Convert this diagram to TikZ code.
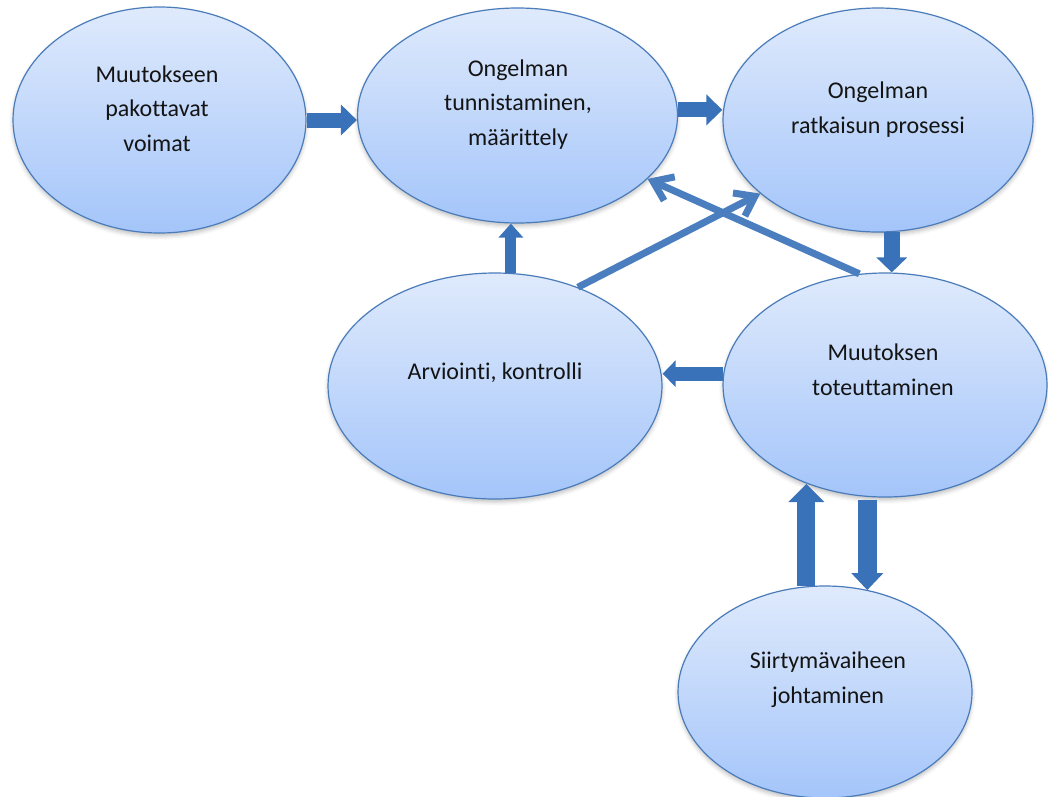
\documentclass[tikz,border=0pt]{standalone}
\usepackage{fontspec}
\setmainfont{Carlito}[Ligatures=NoCommon]
\usetikzlibrary{arrows.meta,shapes.geometric,shadows.blur}
\definecolor{rim}{RGB}{74,124,186}
\definecolor{fillTop}{RGB}{223,234,252}
\definecolor{fillBot}{RGB}{164,197,250}
\definecolor{arrowblue}{RGB}{58,114,186}
\definecolor{lineblue}{RGB}{74,126,190}
\definecolor{ink}{RGB}{20,20,20}
\begin{document}
\begin{tikzpicture}[x=1pt,y=-1pt,
  bubble/.style={ellipse, draw=rim, line width=1.2pt, top color=fillTop,
    bottom color=fillBot, inner sep=0pt,
    blur shadow={shadow xshift=0pt, shadow yshift=-3pt,
      shadow blur radius=4pt, shadow opacity=25}},
  bubbletext/.style={anchor=base, align=center, inner sep=0pt,
    font=\fontsize{24}{34.5}\selectfont, text=ink},
  blockarrow/.style n args={3}{line width=#1pt, arrowblue,
    -{Triangle[length=#3pt,width=#2pt]}},
  thinarrow/.style={line width=7pt, lineblue,
    -{Straight Barb[length=18pt,width=26pt]}}
]
\useasboundingbox (0,0) rectangle (1048,796);

% the six stages
\node[bubble, minimum width=293pt, minimum height=226pt] (e1) at (159.5,120) {};
\node[bubble, minimum width=320pt, minimum height=215pt] (e2) at (517.5,115.5) {};
\node[bubble, minimum width=310pt, minimum height=224pt] (e3) at (878,120) {};
\node[bubble, minimum width=334pt, minimum height=226pt] (e4) at (495,386) {};
\node[bubble, minimum width=324pt, minimum height=224pt] (e5) at (885,385) {};
\node[bubble, minimum width=294pt, minimum height=212pt] (e6) at (825,692) {};

% labels, placed by the baseline of their last line
\node[bubbletext] (t1) at (157,151) {Muutokseen\\pakottavat\\voimat};
\node[bubbletext] (t2) at (518,145) {Ongelman\\tunnistaminen,\\määrittely};
\node[bubbletext] (t3) at (878,133) {Ongelman\\ratkaisun prosessi};
\node[bubbletext] (t4) at (495,379) {Arviointi, kontrolli};
\node[bubbletext] (t5) at (883,395) {Muutoksen\\toteuttaminen};
\node[bubbletext] (t6) at (828,703) {Siirtymävaiheen\\johtaminen};

% block arrows between the stages
\draw[blockarrow={15}{30}{16}] (e1.east) -- (e1.east -| e2.west);
\draw[blockarrow={15}{30}{16}] (e2.2.7) -- (e2.2.7 -| e3.west);
\draw[blockarrow={16}{30}{15}] (e3.-83.4) -- (e3.-83.4 |- e5.north);
\draw[blockarrow={14}{26}{13}] (e5.176.5) -- (e5.176.5 -| e4.east);
\draw[blockarrow={11}{24}{14}] (e4.82.4) -- (e4.82.4 |- e2.south);
\draw[blockarrow={18}{35}{18}] (e6.100.2) -- (e6.100.2 |- e5.-128.6);
\draw[blockarrow={19}{31}{17}] ([yshift=-3pt]e5.-99.2) -- (e5.-99.2 |- e6.67.5);

% feedback lines
\draw[thinarrow] (e5.103.7) -- (e2.-26);
\draw[thinarrow] (e4.50.4) -- (e3.212);
\end{tikzpicture}
\end{document}
